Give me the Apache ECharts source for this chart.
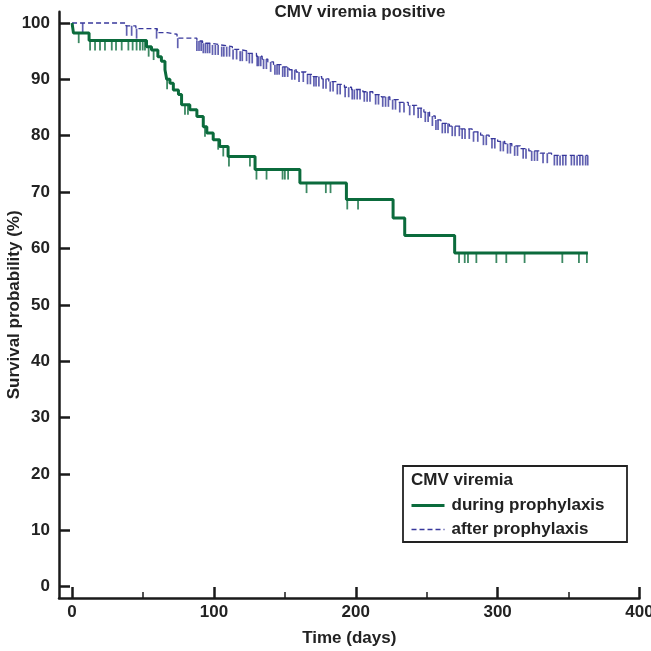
<!DOCTYPE html>
<html>
<head>
<meta charset="utf-8">
<script src="https://cdn.jsdelivr.net/npm/echarts@6/dist/echarts.min.js"></script>
<style>html,body{margin:0;padding:0;background:#fff}#c{width:651px;height:651px}</style>
</head>
<body>
<div id="c"></div>
<script>
// ---- data ----
const xTickValues = [0, 100, 200, 300, 400];
const xMinorTickValues = [50, 150, 250, 350];
const yTickValues = [0, 10, 20, 30, 40, 50, 60, 70, 80, 90, 100];

const duringTimes = [0, 1, 12, 52.5, 56, 60.5, 63, 65.5, 66.7, 69, 71.4, 75, 77.2, 83, 88, 92.5, 95, 99.5, 104, 110, 129, 160.6, 193.4, 226.3, 234.5, 269.7, 363.6];
const duringSurv  = [100, 98.2, 96.9, 95.8, 95.2, 94.0, 93.2, 91.7, 90.0, 89.3, 88.1, 87.3, 85.5, 84.6, 83.4, 81.6, 80.5, 79.3, 78.1, 76.3, 74.0, 71.6, 68.7, 65.4, 62.3, 59.2, 59.2];
const duringCensored = [4.7, 12.7, 16.2, 19.7, 23.2, 28, 31, 35, 39.7, 42.7, 45.5, 47.9, 49.8, 51.4, 54, 57.5, 67, 79.6, 81.7, 93.7, 103, 106.6, 110.6, 125.4, 130, 137.1, 148.4, 150, 152.3, 165.3, 178.9, 182.2, 194, 201.6, 272.8, 276.8, 279.1, 285, 299.1, 306.1, 319, 345.6, 357.3, 362.9];

const afterTimes = [0, 38, 45, 60, 67, 74, 88, 92, 98, 105, 113, 118, 124, 130, 134, 138, 142, 148, 153, 158, 165, 170, 176, 181, 186, 192, 197, 205, 212, 218, 224, 230, 237, 243, 248, 252, 256, 260, 266, 274, 282, 288, 294, 300, 305, 310, 316, 322, 330, 338, 363.5];
const afterSurv  = [100, 99.5, 99.0, 98.3, 98.0, 97.3, 96.8, 96.4, 96.1, 95.8, 95.3, 95.0, 94.6, 94.1, 93.6, 93.1, 92.6, 92.2, 91.7, 91.3, 90.9, 90.5, 90.1, 89.6, 89.1, 88.6, 88.2, 87.8, 87.3, 86.9, 86.4, 85.9, 85.4, 84.9, 84.2, 83.5, 82.8, 82.2, 81.7, 81.2, 80.7, 80.1, 79.5, 79.0, 78.6, 78.2, 77.7, 77.3, 76.9, 76.5, 76.5];
const afterCensored = [7.5, 38.5, 42, 45.5, 59.6, 74.5, 88, 89.5, 91, 92.5, 94, 95.5, 97, 99, 101, 103, 105.5, 107, 109, 111, 113.5, 116, 118.5, 120, 123, 125, 127, 130.5, 131.5, 133, 135, 137, 140, 143, 144.5, 146, 148.5, 150, 152, 155, 157, 160, 163, 166, 168, 170.5, 172, 174, 177, 179, 182, 184, 187, 189, 192.5, 195, 197.5, 199, 201, 203, 206, 208, 210, 214, 216, 219, 221, 223, 226, 228, 231, 234, 238, 241, 244, 246, 249, 251, 254, 256.5, 258, 261, 263, 265, 268, 270, 273, 275, 277, 280, 283, 286, 290, 292, 296, 298, 302, 304, 307, 309, 312, 314, 318, 320, 324, 326, 328, 332, 335, 340, 342, 344, 346, 348, 352, 354, 356, 358, 360, 362, 363.5];

const seriesNames = ['during prophylaxis', 'after prophylaxis'];

// ---- build ----
function pairs(xs, ys) { return xs.map((x, i) => [x, ys[i]]); }
function stepAt(xs, ys, t) { let v = ys[0]; for (let i = 0; i < xs.length; i++) { if (xs[i] <= t) v = ys[i]; } return v; }
function censorPts(cs, xs, ys) { return cs.map(t => [t, stepAt(xs, ys, t)]); }

const GREEN = '#0b6b3c';
const BLUE = '#38389c';
const FONT = 'Liberation Sans, Arial, Helvetica, sans-serif';
const AX = '#1a1a1a';
const TXT = '#222';

const chart = echarts.init(document.getElementById('c'), null, { renderer: 'canvas' });
chart.setOption({
  animation: false,
  backgroundColor: '#fff',
  title: {
    text: 'CMV viremia positive', left: 355, top: -1, textAlign: 'center',
    textStyle: { fontFamily: FONT, fontWeight: 'bold', fontSize: 17, color: TXT }
  },
  grid: { left: 59, right: 11.5, top: 11.7, bottom: 53, containLabel: false, outerBoundsMode: 'none' },
  xAxis: [{
    type: 'value', min: -9.2, max: 400,
    name: 'Time (days)', nameLocation: 'middle', nameGap: 32, nameMoveOverlap: false,
    nameTextStyle: { fontFamily: FONT, fontWeight: 'bold', fontSize: 17, color: TXT },
    axisLine: { show: true, onZero: false, lineStyle: { color: AX, width: 2.5 } },
    axisTick: { show: true, inside: true, length: 11, customValues: xTickValues, lineStyle: { color: AX, width: 2.5 } },
    axisLabel: { customValues: xTickValues, margin: 6, fontFamily: FONT, fontWeight: 'bold', fontSize: 17, color: TXT },
    splitLine: { show: false }
  }, {
    type: 'value', min: -9.2, max: 400, position: 'bottom',
    axisLine: { show: false, onZero: false },
    axisTick: { show: true, inside: true, length: 6, customValues: xMinorTickValues, lineStyle: { color: AX, width: 1.5 } },
    axisLabel: { show: false },
    splitLine: { show: false }
  }],
  yAxis: {
    type: 'value', min: -2, max: 102,
    name: 'Survival probability (%)', nameLocation: 'middle', nameGap: 36, nameMoveOverlap: false,
    nameTextStyle: { fontFamily: FONT, fontWeight: 'bold', fontSize: 17, color: TXT },
    axisLine: { show: true, onZero: false, lineStyle: { color: AX, width: 2.5 } },
    axisTick: { show: true, inside: true, length: 11, customValues: yTickValues, lineStyle: { color: AX, width: 2.5 } },
    axisLabel: { customValues: yTickValues, margin: 9, fontFamily: FONT, fontWeight: 'bold', fontSize: 17, color: TXT },
    splitLine: { show: false }
  },
  legend: {
    data: [
      { name: seriesNames[0], lineStyle: { width: 3 } },
      { name: seriesNames[1], lineStyle: { width: 1.3 } }
    ],
    orient: 'vertical', left: 405, top: 492,
    itemWidth: 33, itemHeight: 14, itemGap: 7,
    itemStyle: { opacity: 0 },
    textStyle: { fontFamily: FONT, fontWeight: 'bold', fontSize: 17, color: TXT, padding: [0, 0, 0, 2] }
  },
  graphic: [
    { type: 'rect', z: 0, shape: { x: 403, y: 466, width: 224, height: 76 }, style: { fill: '#fff', stroke: '#222', lineWidth: 1.8 } },
    { type: 'text', z: 10, left: 411, top: 472, style: { text: 'CMV viremia', font: 'bold 17px ' + FONT, fill: TXT } }
  ],
  series: [
    {
      name: seriesNames[1], type: 'line', step: 'end', data: pairs(afterTimes, afterSurv),
      showSymbol: false, symbol: 'none', z: 3,
      lineStyle: { color: BLUE, width: 1.3, type: [5, 3] }, itemStyle: { color: BLUE }
    },
    {
      name: seriesNames[0], type: 'line', step: 'end', data: pairs(duringTimes, duringSurv),
      showSymbol: false, symbol: 'none', z: 4,
      lineStyle: { color: GREEN, width: 3 }, itemStyle: { color: GREEN }
    },
    {
      name: 'after censored', type: 'scatter', data: censorPts(afterCensored, afterTimes, afterSurv),
      symbol: 'rect', symbolSize: [1.7, 10], symbolOffset: [0, 5], z: 3,
      itemStyle: { color: BLUE }, silent: true
    },
    {
      name: 'during censored', type: 'scatter', data: censorPts(duringCensored, duringTimes, duringSurv),
      symbol: 'rect', symbolSize: [1.8, 10], symbolOffset: [0, 5], z: 4,
      itemStyle: { color: GREEN }, silent: true
    }
  ]
});
</script>
</body>
</html>
